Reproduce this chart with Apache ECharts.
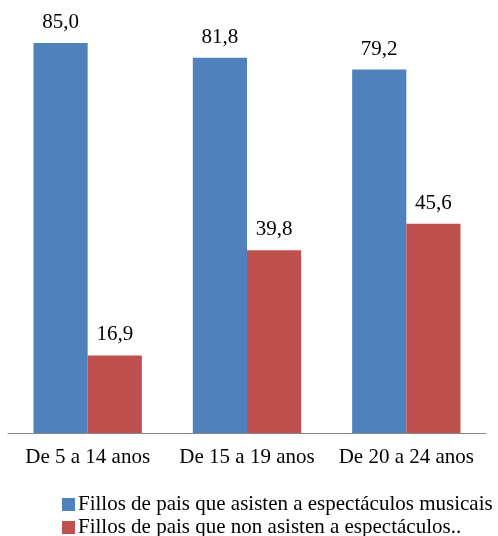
<!DOCTYPE html>
<html>
<head>
<meta charset="utf-8">
<script src="https://cdn.jsdelivr.net/npm/echarts@6/dist/echarts.min.js"></script>
<style>html,body{margin:0;padding:0;background:#fff}#c{width:498px;height:536px}</style>
</head>
<body>
<div id="c"></div>
<script>
var categories = ["De 5 a 14 anos", "De 15 a 19 anos", "De 20 a 24 anos"];
var seriesNames = ["Fillos de pais que asisten a espectáculos musicais", "Fillos de pais que non asisten a espectáculos.."];
var attendValues = [85.0, 81.8, 79.2];
var notAttendValues = [16.9, 39.8, 45.6];

var font = "Liberation Serif";
var fs = 21;
function fmt(p){ return p.value.toFixed(1).replace('.', ','); }
function legendFor(name, top){
  return {
    orient: 'horizontal', left: 62, top: top, padding: 0,
    itemWidth: 13, itemHeight: 13, icon: 'rect',
    textStyle: {fontFamily: font, fontSize: fs, color: '#000', padding: [0,0,0,-2]},
    data: [name]
  };
}

var chart = echarts.init(document.getElementById('c'), null, {renderer: 'canvas'});
chart.setOption({
  animation: false,
  textStyle: {fontFamily: font, fontSize: fs},
  grid: {left: 8, right: 12, top: 20, bottom: 103},
  legend: [legendFor(seriesNames[0], 494), legendFor(seriesNames[1], 517)],
  xAxis: {
    type: 'category', data: categories,
    axisLine: {lineStyle: {color: '#868686'}},
    axisTick: {show: false},
    axisLabel: {fontFamily: font, fontSize: fs, color: '#000', margin: 14, interval: 0, hideOverlap: false}
  },
  yAxis: {type: 'value', min: 0, max: 90, show: false, splitLine: {show: false}},
  series: [
    {name: seriesNames[0], type: 'bar', data: attendValues, barGap: '0%', barCategoryGap: '32%',
     itemStyle: {color: '#4F81BD'},
     label: {show: true, position: 'top', distance: 10, formatter: fmt, fontFamily: font, fontSize: fs, color: '#000'}},
    {name: seriesNames[1], type: 'bar', data: notAttendValues,
     itemStyle: {color: '#C0504D'},
     label: {show: true, position: 'top', distance: 10, formatter: fmt, fontFamily: font, fontSize: fs, color: '#000'}}
  ]
});
</script>
</body>
</html>
